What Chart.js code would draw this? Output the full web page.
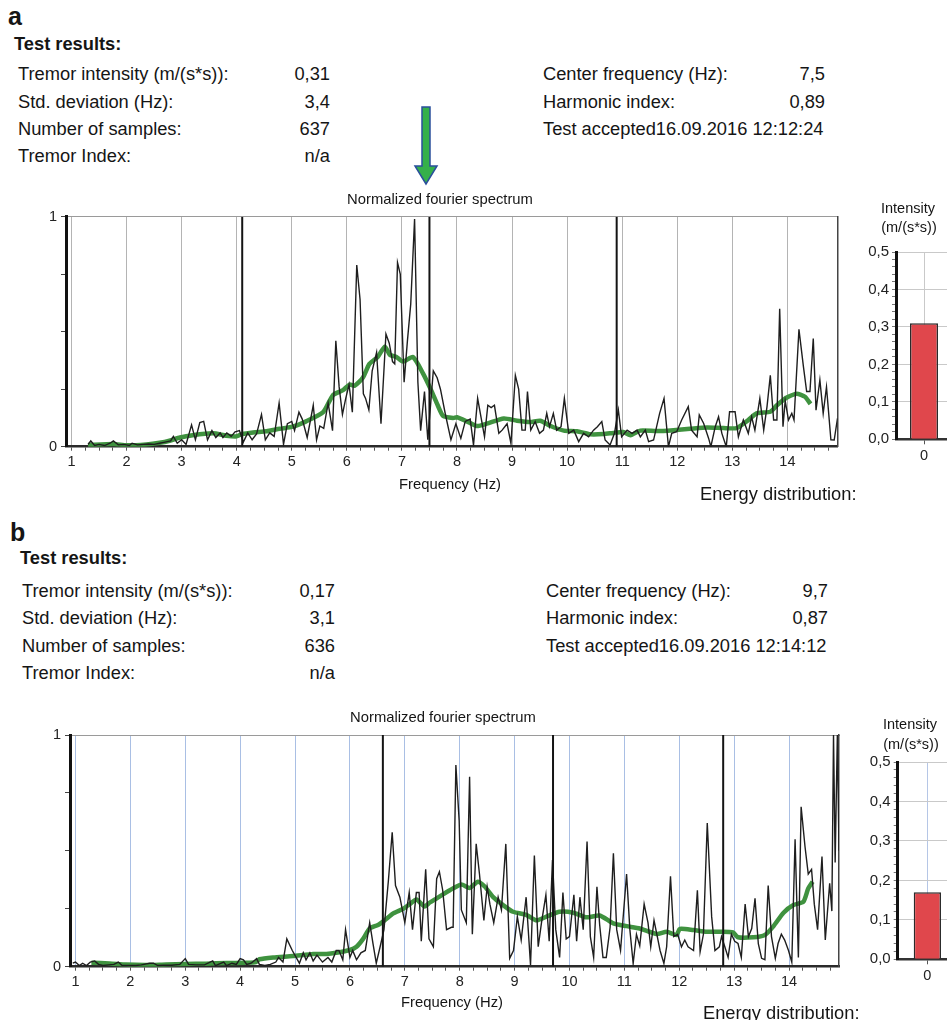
<!DOCTYPE html>
<html><head><meta charset="utf-8">
<script src="https://cdn.jsdelivr.net/npm/chart.js@4.4.1/dist/chart.umd.min.js"></script>
<style>
html,body{margin:0;padding:0;background:#fff;}
body{width:947px;height:1020px;overflow:hidden;position:relative;font-family:'Liberation Sans',Arial,Helvetica,sans-serif;color:#151515;}
.t{position:absolute;white-space:nowrap;}
canvas{position:absolute;}
</style></head><body>
<svg style="position:absolute;left:410px;top:104px" width="32" height="84">
<polygon points="12,3 20,3 20,62 27,62 16,80 5,62 12,62" fill="#35b04a" stroke="#2a4f9c" stroke-width="1.5"/>
</svg>
<canvas id="specA"></canvas>
<canvas id="barA"></canvas>
<canvas id="specB"></canvas>
<canvas id="barB"></canvas>
<script>
// ---------- data ----------
const statLabelsL = ["Tremor intensity (m/(s*s)):", "Std. deviation (Hz):", "Number of samples:", "Tremor Index:"];
const statValuesA = ["0,31", "3,4", "637", "n/a"];
const statValuesB = ["0,17", "3,1", "636", "n/a"];
const statLabelsR = ["Center frequency (Hz):", "Harmonic index:", "Test accepted"];
const statValuesRA = ["7,5", "0,89", "16.09.2016 12:12:24"];
const statValuesRB = ["9,7", "0,87", "16.09.2016 12:14:12"];
const centerA = 7.5, stdA = 3.4;
const centerB = 9.7, stdB = 3.1;
const intensityA = 0.31, intensityB = 0.17;
const energyLabels = ["0"];

// raw normalized spectrum, panel a: [frequency Hz, value]
const rawA = [[1.30,.01],[1.35,.025],[1.42,.005],[1.50,.01],[1.60,.005],[1.70,.015],[1.76,.025],[1.85,.008],[1.95,.01],[2.05,.005],[2.10,.015],[2.20,.008],[2.30,.01],[2.40,.012],[2.50,.01],[2.60,.015],[2.70,.02],[2.80,.025],[2.85,.045],[2.92,.015],[3.00,.03],[3.08,.01],[3.18,.095],[3.25,.03],[3.33,.105],[3.40,.11],[3.47,.03],[3.55,.07],[3.62,.04],[3.70,.06],[3.75,.04],[3.82,.06],[3.90,.045],[3.97,.065],[4.05,.07],[4.12,.02],[4.20,.06],[4.28,.03],[4.36,.055],[4.45,.14],[4.52,.03],[4.60,.06],[4.68,.045],[4.77,.19],[4.85,.01],[4.92,.10],[5.00,.11],[5.05,.07],[5.13,.15],[5.19,.12],[5.28,.04],[5.39,.18],[5.45,.03],[5.51,.09],[5.58,.08],[5.66,.19],[5.74,.07],[5.80,.46],[5.86,.26],[5.92,.14],[5.98,.21],[6.04,.27],[6.10,.15],[6.18,.79],[6.24,.64],[6.30,.23],[6.34,.21],[6.40,.16],[6.46,.33],[6.54,.41],[6.62,.10],[6.71,.49],[6.77,.45],[6.83,.37],[6.87,.36],[6.92,.80],[6.97,.75],[7.04,.28],[7.10,.46],[7.16,.62],[7.23,.99],[7.29,.28],[7.34,.07],[7.41,.24],[7.47,.03],[7.57,.33],[7.64,.30],[7.70,.25],[7.79,.14],[7.89,.03],[7.98,.10],[8.07,.036],[8.15,.11],[8.24,.12],[8.30,.007],[8.375,.21],[8.45,.11],[8.50,.043],[8.56,.18],[8.62,.17],[8.68,.18],[8.76,.058],[8.82,.072],[8.91,.10],[8.98,.014],[9.06,.31],[9.12,.25],[9.18,.072],[9.24,.072],[9.28,.24],[9.34,.072],[9.42,.109],[9.50,.058],[9.57,.072],[9.63,.145],[9.68,.087],[9.75,.145],[9.81,.072],[9.89,.087],[9.95,.21],[10.03,.058],[10.12,.072],[10.21,.022],[10.30,.058],[10.39,.043],[10.48,.072],[10.55,.087],[10.63,.109],[10.69,.029],[10.78,.007],[10.86,.058],[10.93,.16],[10.99,.043],[11.09,.072],[11.18,.058],[11.27,.072],[11.33,.043],[11.42,.072],[11.48,.022],[11.57,.029],[11.68,.145],[11.76,.21],[11.84,0],[11.90,.058],[11.99,.065],[12.08,.116],[12.20,.174],[12.26,.072],[12.36,.043],[12.40,.138],[12.48,.101],[12.57,.036],[12.61,0],[12.69,.087],[12.75,.13],[12.81,.058],[12.89,0],[12.95,.152],[13.05,.152],[13.11,.043],[13.20,.116],[13.29,.058],[13.35,.13],[13.41,.072],[13.50,.21],[13.57,.072],[13.63,.174],[13.69,.31],[13.75,.116],[13.81,.116],[13.86,.60],[13.92,.087],[13.96,.20],[14.02,.116],[14.08,.145],[14.12,.116],[14.21,.51],[14.29,.35],[14.35,.24],[14.41,.24],[14.47,.47],[14.52,.159],[14.59,.29],[14.65,.145],[14.71,.26],[14.79,.03],[14.85,.029],[14.91,.123]];

// smoothed spectrum, panel a
const smoothA = [[1.30,.007],[1.76,.012],[2.0,.006],[2.36,.01],[2.6,.017],[2.78,.026],[2.97,.04],[3.2,.05],[3.57,.058],[3.81,.048],[4.0,.045],[4.1,.055],[4.3,.062],[4.54,.067],[4.78,.078],[5.02,.087],[5.26,.11],[5.57,.15],[5.75,.225],[5.93,.246],[6.05,.27],[6.14,.265],[6.29,.30],[6.41,.36],[6.56,.39],[6.69,.435],[6.78,.40],[6.9,.39],[7.02,.37],[7.2,.39],[7.38,.32],[7.53,.246],[7.65,.18],[7.75,.133],[7.93,.125],[8.0,.128],[8.18,.11],[8.36,.09],[8.54,.10],[8.85,.123],[9.09,.113],[9.33,.107],[9.51,.113],[9.7,.09],[9.94,.07],[10.18,.067],[10.42,.054],[10.66,.055],[10.84,.06],[11.02,.064],[11.15,.05],[11.33,.07],[11.63,.068],[11.93,.072],[12.23,.078],[12.54,.084],[12.84,.081],[13.08,.081],[13.26,.11],[13.44,.145],[13.69,.152],[13.81,.18],[13.99,.214],[14.17,.23],[14.32,.217],[14.42,.186]];

// raw normalized spectrum, panel b
const rawB = [[0.95,.015],[1.0,.02],[1.07,.005],[1.13,.015],[1.2,.005],[1.27,.02],[1.35,.025],[1.42,.01],[1.5,.005],[1.6,.008],[1.7,.01],[1.78,.02],[1.85,.005],[2.0,.005],[2.1,.005],[2.2,.008],[2.35,.015],[2.42,.015],[2.5,.005],[2.6,.006],[2.75,.006],[2.9,.01],[3.0,.035],[3.06,.01],[3.2,.008],[3.35,.008],[3.5,.025],[3.55,.005],[3.7,.02],[3.75,.005],[3.85,.015],[3.93,.01],[4.0,.035],[4.06,.03],[4.12,.01],[4.2,.015],[4.3,.035],[4.35,.01],[4.45,.005],[4.55,.01],[4.65,.02],[4.7,.04],[4.78,.02],[4.85,.12],[4.95,.07],[5.02,.04],[5.08,.015],[5.15,.06],[5.2,.03],[5.27,.06],[5.33,.025],[5.4,.05],[5.5,.02],[5.6,.04],[5.67,.02],[5.75,.07],[5.8,.07],[5.87,.03],[5.92,.16],[6.0,.04],[6.05,.07],[6.12,.03],[6.2,.06],[6.28,.07],[6.36,.19],[6.42,.10],[6.48,.015],[6.55,.086],[6.62,.16],[6.7,.37],[6.77,.58],[6.83,.35],[6.91,.30],[7.0,.19],[7.08,.32],[7.14,.16],[7.21,.32],[7.26,.32],[7.3,.11],[7.38,.42],[7.44,.12],[7.52,.086],[7.58,.38],[7.63,.41],[7.69,.33],[7.76,.16],[7.85,.17],[7.88,.17],[7.93,.87],[7.99,.63],[8.03,.245],[8.12,.19],[8.18,.82],[8.23,.14],[8.3,.53],[8.36,.40],[8.44,.20],[8.5,.345],[8.55,.27],[8.62,.19],[8.7,.30],[8.76,.245],[8.84,.53],[8.91,.036],[8.98,.07],[9.05,.216],[9.12,.115],[9.21,.30],[9.29,.007],[9.36,.48],[9.43,.086],[9.49,.19],[9.57,.31],[9.63,.11],[9.69,.46],[9.75,.16],[9.82,.04],[9.88,.32],[9.94,.12],[10.0,.13],[10.08,.31],[10.13,.11],[10.19,.30],[10.25,.16],[10.32,.54],[10.38,.13],[10.44,.04],[10.5,.345],[10.55,.18],[10.61,.04],[10.67,.04],[10.74,.17],[10.8,.49],[10.86,.16],[10.93,.07],[11.04,.40],[11.1,.16],[11.16,.014],[11.22,.14],[11.28,.09],[11.36,.27],[11.43,.19],[11.48,.086],[11.54,.20],[11.6,.13],[11.65,.07],[11.72,.014],[11.77,.086],[11.84,.39],[11.9,.13],[11.97,.14],[12.04,.086],[12.1,.115],[12.16,.086],[12.26,.07],[12.33,.33],[12.38,.065],[12.44,.14],[12.51,.62],[12.59,.216],[12.65,.07],[12.73,.086],[12.77,.13],[12.83,.086],[12.89,.04],[12.95,.14],[13.01,.11],[13.07,.10],[13.13,.04],[13.2,.27],[13.26,.13],[13.32,.165],[13.38,.295],[13.44,.10],[13.5,.036],[13.56,.03],[13.62,.35],[13.68,.13],[13.75,.036],[13.8,.10],[13.86,.14],[13.92,.115],[13.99,.07],[14.05,.02],[14.11,.55],[14.17,.04],[14.22,.69],[14.29,.52],[14.35,.40],[14.41,.42],[14.46,.27],[14.52,.16],[14.6,.475],[14.66,.115],[14.74,.36],[14.78,.24],[14.81,1.0],[14.84,.45],[14.88,1.0],[14.91,.5]];

// smoothed spectrum, panel b
const smoothB = [[1.29,.017],[1.62,.014],[1.92,.009],[2.29,.007],[2.65,.01],[3.0,.012],[3.38,.013],[3.75,.016],[4.11,.017],[4.29,.02],[4.35,.032],[4.6,.04],[4.96,.046],[5.33,.055],[5.57,.055],[5.75,.06],[6.0,.072],[6.12,.086],[6.24,.12],[6.36,.165],[6.51,.18],[6.63,.2],[6.79,.23],[6.97,.25],[7.09,.27],[7.21,.29],[7.36,.26],[7.45,.276],[7.58,.295],[7.82,.33],[8.03,.355],[8.18,.34],[8.33,.367],[8.46,.345],[8.61,.30],[8.79,.266],[8.97,.237],[9.22,.223],[9.4,.20],[9.58,.216],[9.82,.237],[10.07,.233],[10.31,.213],[10.55,.221],[10.8,.187],[11.04,.175],[11.28,.165],[11.59,.141],[11.77,.151],[11.95,.137],[12.01,.163],[12.26,.158],[12.5,.151],[12.74,.151],[12.98,.148],[13.07,.127],[13.35,.127],[13.56,.137],[13.71,.173],[13.9,.233],[14.08,.266],[14.26,.28],[14.35,.338],[14.43,.367]];

// ---------- text ----------
const FONT = "'Liberation Sans', Arial, Helvetica, sans-serif";
function txt(s, x, y, o) {
  o = o || {};
  const size = o.size || 18.3;
  const d = document.createElement('div');
  d.className = 't';
  d.textContent = s;
  const lh = Math.round(size * 1.15);
  d.style.fontSize = size + 'px';
  d.style.lineHeight = lh + 'px';
  if (o.bold) d.style.fontWeight = 'bold';
  d.style.left = x + 'px';
  d.style.top = (y - lh / 2) + 'px';
  if (o.align === 'right') d.style.transform = 'translateX(-100%)';
  if (o.align === 'center') d.style.transform = 'translateX(-50%)';
  document.body.appendChild(d);
}
function header(letter, lx, ly, tx, ty, rowsY, lX, vX, rX, rvX, vals, rvals) {
  txt(letter, lx, ly, {size: 25, bold: true});
  txt("Test results:", tx, ty, {bold: true});
  statLabelsL.forEach((s, i) => { txt(s, lX, rowsY[i]); txt(vals[i], vX, rowsY[i], {align: 'right'}); });
  statLabelsR.forEach((s, i) => {
    if (i < 2) { txt(s, rX, rowsY[i]); txt(rvals[i], rvX, rowsY[i], {align: 'right'}); }
    else txt(s + rvals[i], rX, rowsY[i]);
  });
}
header("a", 8, 16, 14, 43, [73, 101, 128, 155], 18, 330, 543, 825, statValuesA, statValuesRA);
header("b", 10, 532, 20, 557, [590, 617, 645, 672], 22, 335, 546, 828, statValuesB, statValuesRB);

txt("Normalized fourier spectrum", 440, 199, {size: 14.8, align: 'center'});
txt("Frequency (Hz)", 450, 484, {size: 14.8, align: 'center'});
txt("Energy distribution:", 700, 493);
txt("Intensity", 908, 208, {size: 14.5, align: 'center'});
txt("(m/(s*s))", 909, 227, {size: 14.5, align: 'center'});

txt("Normalized fourier spectrum", 443, 717, {size: 14.8, align: 'center'});
txt("Frequency (Hz)", 452, 1002, {size: 14.8, align: 'center'});
txt("Energy distribution:", 703, 1012);
txt("Intensity", 910, 724, {size: 14.5, align: 'center'});
txt("(m/(s*s))", 911, 744, {size: 14.5, align: 'center'});

// ---------- charts ----------
Chart.defaults.font.family = FONT;
Chart.defaults.color = '#222';

function setup(id, g) {
  const cv = document.getElementById(id);
  cv.style.left = g.left + 'px'; cv.style.top = g.top + 'px';
  cv.width = g.w; cv.height = g.h;
  cv.style.width = g.w + 'px'; cv.style.height = g.h + 'px';
  return {
    cv,
    yW: g.areaL - g.left,
    xH: g.top + g.h - g.areaB,
    padT: g.areaT - g.top,
    padR: g.left + g.w - g.areaR
  };
}

function spectrum(id, g, raw, smooth, center, std, gridCol) {
  const s = setup(id, g);
  const toPts = arr => arr.map(p => ({x: p[0], y: p[1]}));
  const markers = [center - std, center, center + std].map(f => ({
    data: [{x: f, y: 0}, {x: f, y: 1}], borderColor: '#141414', borderWidth: 2, pointRadius: 0
  }));
  new Chart(s.cv, {
    type: 'line',
    data: {datasets: [
      ...markers,
      {data: toPts(raw), borderColor: '#1e1e1e', borderWidth: 1.4, pointRadius: 0, tension: 0},
      {data: toPts(smooth), borderColor: '#3f923f', borderWidth: 4.5, pointRadius: 0, tension: 0.2}
    ]},
    options: {
      responsive: false, animation: false, devicePixelRatio: 1,
      layout: {padding: {left: 0, top: s.padT, right: s.padR, bottom: 0}},
      plugins: {legend: {display: false}, tooltip: {enabled: false}},
      scales: {
        x: {
          type: 'linear', min: 0.9, max: 14.91,
          afterFit: sc => { sc.height = s.xH; },
          ticks: {stepSize: 0.25, autoSkip: false, maxRotation: 0, includeBounds: false, padding: 3,
            font: {size: 14.5}, color: '#222',
            callback: v => Number.isInteger(v) ? String(v) : ''},
          grid: {color: c => (c.tick && Number.isInteger(c.tick.value)) ? gridCol : 'rgba(0,0,0,0)',
            tickColor: '#555', tickLength: 4, lineWidth: 1},
          border: {color: '#2a2a2a', width: 2.5}
        },
        x2: {
          type: 'linear', position: 'top', min: 0.9, max: 14.91,
          afterFit: sc => { sc.height = 0; },
          ticks: {display: false}, grid: {display: false},
          border: {color: '#9a9a9a', width: 1, dash: [2, 2]}
        },
        y: {
          type: 'linear', min: 0, max: 1,
          afterFit: sc => { sc.width = s.yW; },
          ticks: {stepSize: 0.25, autoSkip: false, padding: 4, font: {size: 14.5}, color: '#222',
            callback: v => v === 0 ? '0' : (v === 1 ? '1' : '')},
          grid: {drawOnChartArea: false, tickColor: '#444', tickLength: 5},
          border: {color: '#111', width: 3}
        },
        y2: {
          type: 'linear', position: 'right', min: 0, max: 1,
          afterFit: sc => { sc.width = 0; },
          ticks: {display: false}, grid: {display: false},
          border: {color: '#444', width: 1.5}
        }
      }
    }
  });
}

function energyBar(id, g, value, barPct, gridCol) {
  const s = setup(id, g);
  new Chart(s.cv, {
    type: 'bar',
    data: {labels: energyLabels, datasets: [{
      data: [value], backgroundColor: '#e0474c', borderColor: '#2a2a2a', borderWidth: 1.5,
      barPercentage: barPct, categoryPercentage: 1
    }]},
    options: {
      responsive: false, animation: false, devicePixelRatio: 1,
      layout: {padding: {left: 0, top: s.padT, right: s.padR, bottom: 0}},
      plugins: {legend: {display: false}, tooltip: {enabled: false}},
      scales: {
        x: {
          afterFit: sc => { sc.height = s.xH; },
          ticks: {font: {size: 14.5}, padding: 3, color: '#222'},
          grid: {offset: false, color: gridCol, tickColor: '#555', tickLength: 5},
          border: {color: '#333', width: 2.5}
        },
        y: {
          min: 0, max: 0.5,
          afterFit: sc => { sc.width = s.yW; },
          ticks: {stepSize: 0.02, autoSkip: false, padding: 3, font: {size: 15}, color: '#222',
            callback: v => { const t = Math.round(v * 100); return t % 10 === 0 ? (t / 100).toFixed(1).replace('.', ',') : ''; }},
          grid: {color: c => (c.tick && Math.round(c.tick.value * 100) % 10 === 0) ? '#c9c9c9' : 'rgba(0,0,0,0)',
            tickColor: '#777', tickLength: 4},
          border: {color: '#111', width: 3}
        }
      }
    }
  });
}

spectrum('specA', {left: 10, top: 186, w: 850, h: 300, areaL: 66, areaT: 216.7, areaR: 837.5, areaB: 446.7},
  rawA, smoothA, centerA, stdA, '#b4b4b4');
spectrum('specB', {left: 10, top: 704, w: 850, h: 300, areaL: 70, areaT: 735, areaR: 839, areaB: 966.7},
  rawB, smoothB, centerB, stdB, '#a9bfe4');
energyBar('barA', {left: 840, top: 240, w: 120, h: 230, areaL: 896, areaT: 251, areaR: 952, areaB: 439.3},
  intensityA, 0.5, '#c9c9c9');
energyBar('barB', {left: 840, top: 750, w: 125, h: 240, areaL: 897.7, areaT: 761.7, areaR: 957, areaB: 959.3},
  intensityB, 0.46, '#b5c6e6');
</script>
</body></html>
